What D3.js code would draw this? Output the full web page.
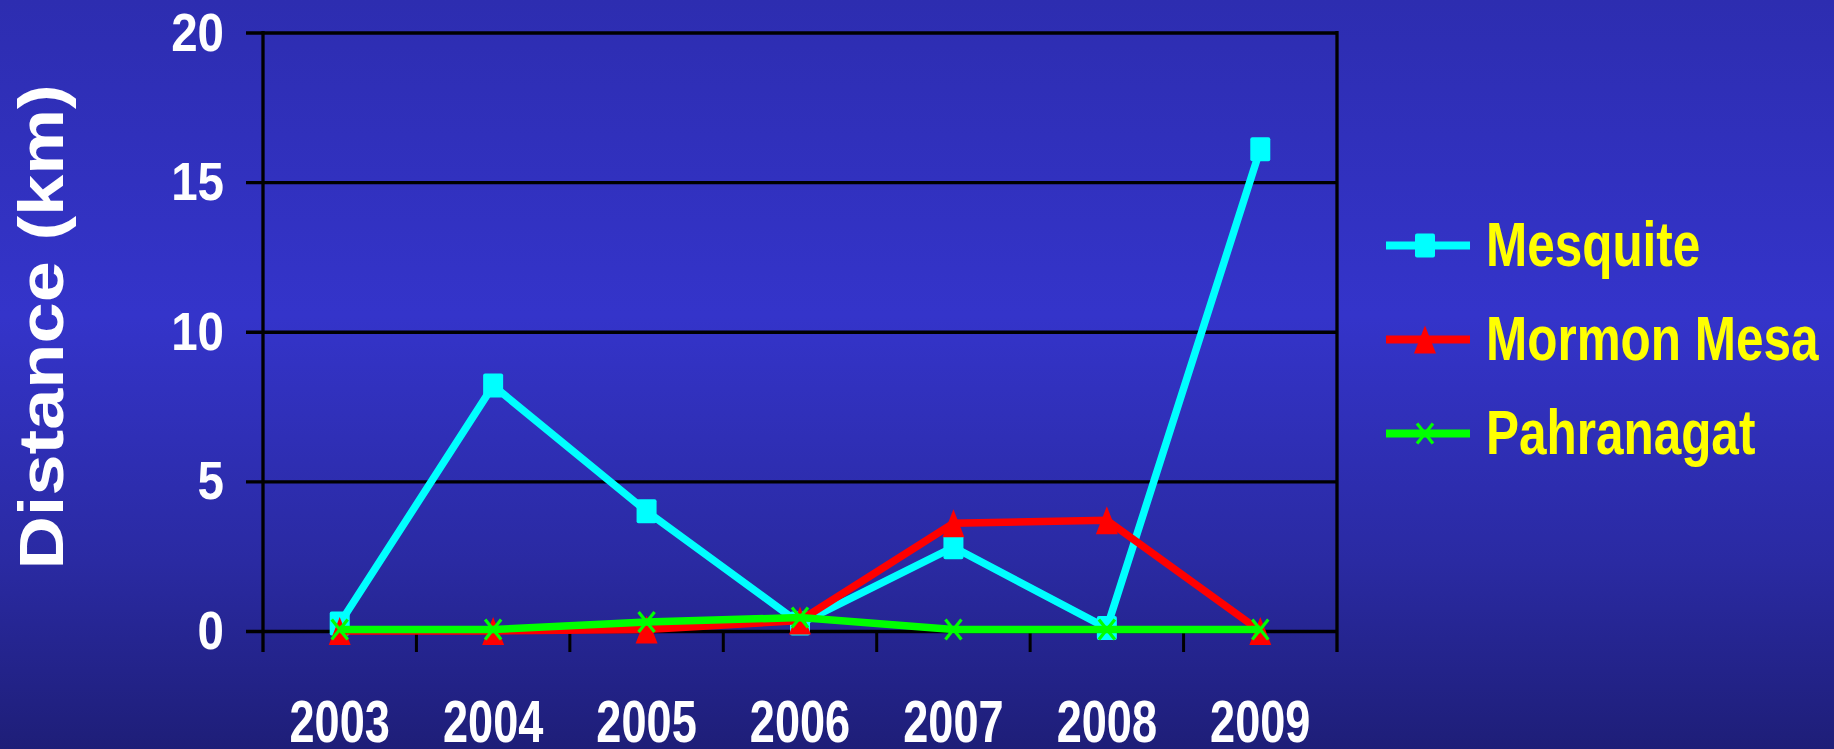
<!DOCTYPE html>
<html>
<head>
<meta charset="utf-8">
<script src="https://cdn.jsdelivr.net/npm/d3@7/dist/d3.min.js"></script>
<style>
  html, body { margin: 0; padding: 0; background: #2c2cb0; }
  svg { display: block; }
  text { font-family: "Liberation Sans", Arial, sans-serif; font-weight: bold; }
</style>
</head>
<body>
<svg id="chart" width="1834" height="749"></svg>
<script>
// ---- data ----
const years = ["2003", "2004", "2005", "2006", "2007", "2008", "2009"];
const mesquite = [0.25, 8.2, 4.0, 0.25, 2.8, 0.1, 16.1];
const mormonMesa = [0, 0, 0.05, 0.35, 3.6, 3.7, 0];
const pahranagat = [0.05, 0.05, 0.3, 0.45, 0.05, 0.05, 0.05];
const seriesNames = ["Mesquite", "Mormon Mesa", "Pahranagat"];
const yTicks = [0, 5, 10, 15, 20];
const yTitle = "Distance (km)";

const W = 1834, H = 749;
const svg = d3.select("#chart");

// background gradient
const defs = svg.append("defs");
const grad = defs.append("linearGradient").attr("id", "bg")
  .attr("x1", 0).attr("y1", 0).attr("x2", 0).attr("y2", 1);
[[0, "#2d2db0"], [0.42, "#3434ca"], [0.75, "#2a2aa2"], [1, "#1e1e78"]]
  .forEach(([o, c]) => grad.append("stop").attr("offset", o).attr("stop-color", c));
svg.append("rect").attr("width", W).attr("height", H).attr("fill", "url(#bg)");

// scales
const plotL = 263, plotR = 1337, plotT = 32.5, plotB = 631, tickLen = 21;
const x = d3.scalePoint().domain(years).range([plotL, plotR]).padding(0.5);
const band = (plotR - plotL) / years.length;
const y = d3.scaleLinear().domain([0, 20]).range([plotB, plotT]);

function condense(sel, f) {
  sel.each(function () {
    const len = this.getComputedTextLength();
    d3.select(this).attr("textLength", len * f).attr("lengthAdjust", "spacingAndGlyphs");
  });
}

// gridlines (y axis via d3.axisLeft)
const yAxis = d3.axisLeft(y).tickValues(yTicks).tickSize(-(plotR - plotL + 17)).tickFormat(d3.format("d")).tickPadding(0);
const gy = svg.append("g").attr("transform", `translate(${plotR},0)`).call(yAxis);
gy.select(".domain").remove();
gy.selectAll(".tick line").attr("stroke", "#000").attr("stroke-width", 3.3)
  .attr("x1", 0).attr("x2", -(plotR - plotL + 17));
gy.selectAll(".tick text").remove();

// y tick labels
svg.append("g").selectAll("text").data(yTicks).join("text")
  .attr("x", 224).attr("y", d => y(d) + 18)
  .attr("text-anchor", "end").attr("fill", "#fff").attr("font-size", 54)
  .text(d => d).call(condense, 0.88);

// vertical axis line & right border
svg.append("line").attr("x1", plotL).attr("x2", plotL).attr("y1", plotT - 1.5).attr("y2", plotB + tickLen)
  .attr("stroke", "#000").attr("stroke-width", 3.3);
svg.append("line").attr("x1", plotR).attr("x2", plotR).attr("y1", plotT - 1.5).attr("y2", plotB + tickLen)
  .attr("stroke", "#000").attr("stroke-width", 3.3);

// x ticks between categories
const boundaries = d3.range(1, years.length).map(i => x(years[i]) - band / 2);
svg.append("g").selectAll("line").data(boundaries).join("line")
  .attr("x1", d => d).attr("x2", d => d).attr("y1", plotB).attr("y2", plotB + tickLen)
  .attr("stroke", "#000").attr("stroke-width", 3);

// x labels
svg.append("g").selectAll("text").data(years).join("text")
  .attr("x", d => x(d)).attr("y", 742).attr("text-anchor", "middle")
  .attr("fill", "#fff").attr("font-size", 59).text(d => d).call(condense, 0.765);

// y title
svg.append("text")
  .attr("transform", "translate(63,327) scale(0.86,1) rotate(-90)")
  .attr("text-anchor", "middle").attr("fill", "#fff").attr("font-size", 74)
  .text(yTitle);

// series
const colors = ["#00ffff", "#ff0000", "#00ff00"];
const dataSets = [mesquite, mormonMesa, pahranagat];

function drawMarker(g, type, cx, cy, color) {
  if (type === 0) {
    g.append("rect").attr("x", cx - 10).attr("y", cy - 12).attr("width", 20).attr("height", 24)
      .attr("rx", 2).attr("fill", color);
  } else if (type === 1) {
    g.append("path").attr("d", `M${cx},${cy - 14} L${cx + 11},${cy + 14} L${cx - 11},${cy + 14} Z`)
      .attr("fill", color);
  } else {
    g.append("path").attr("d", `M${cx - 8},${cy - 10} L${cx + 8},${cy + 10} M${cx + 8},${cy - 10} L${cx - 8},${cy + 10}`)
      .attr("stroke", color).attr("stroke-width", 3.2).attr("fill", "none");
  }
}

const line = d3.line().x((d, i) => x(years[i])).y(d => y(d));
dataSets.forEach((vals, s) => {
  const g = svg.append("g");
  g.append("path").datum(vals).attr("d", line).attr("fill", "none")
    .attr("stroke", colors[s]).attr("stroke-width", 7.5).attr("stroke-linejoin", "miter");
  vals.forEach((v, i) => drawMarker(g, s, x(years[i]), y(v), colors[s]));
});

// legend
const legY = [245.5, 339.5, 433.5];
seriesNames.forEach((name, s) => {
  const g = svg.append("g");
  g.append("line").attr("x1", 1386).attr("x2", 1470).attr("y1", legY[s]).attr("y2", legY[s])
    .attr("stroke", colors[s]).attr("stroke-width", 8);
  drawMarker(g, s, 1425, legY[s], colors[s]);
  g.append("text").attr("x", 1486).attr("y", legY[s] + 20.5).attr("fill", "#ffff00")
    .attr("font-size", 63).text(name).call(condense, 0.785);
});
</script>
</body>
</html>
